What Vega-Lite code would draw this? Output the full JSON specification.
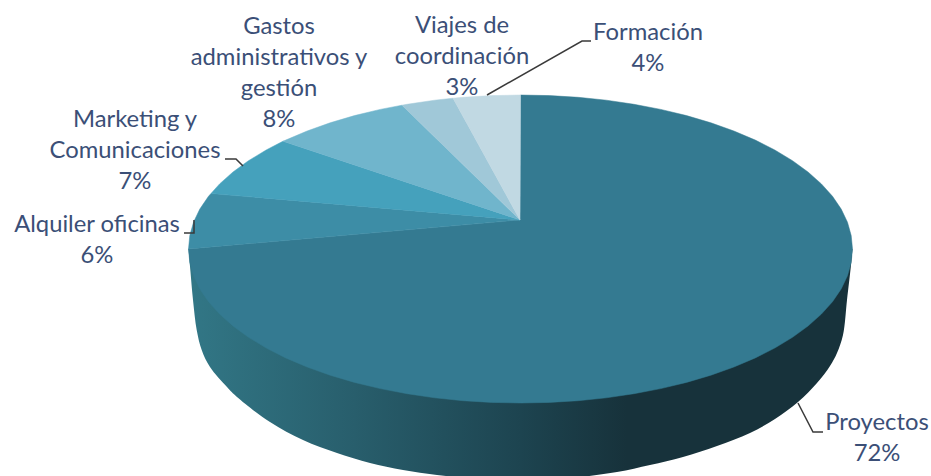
{"$schema":"https://vega.github.io/schema/vega-lite/v6.json","width":931,"height":476,"autosize":{"type":"fit","contains":"padding"},"padding":0,"background":"#ffffff","config":{"view":{"stroke":null}},
"datasets":{
"wall":[{"x":188.5,"y":249},{"x":190.5,"y":272},{"x":193,"y":300},{"x":196.7,"y":330},{"x":201.7,"y":350},{"x":210,"y":367},{"x":227,"y":387},{"x":237,"y":397},{"x":270,"y":422},{"x":303,"y":440},{"x":337,"y":453},{"x":370,"y":463},{"x":403,"y":470},{"x":437,"y":475},{"x":470,"y":478},{"x":520,"y":480},{"x":570,"y":478},{"x":617,"y":472},{"x":650,"y":465},{"x":683,"y":457},{"x":717,"y":446},{"x":750,"y":433},{"x":775,"y":419},{"x":798,"y":402},{"x":817,"y":383},{"x":830,"y":366},{"x":837,"y":353},{"x":843,"y":335},{"x":847,"y":300},{"x":851,"y":265},{"x":852.5,"y":249}],
"proy":[{"x":520,"y":220},{"x":520.5,"y":95},{"x":549.5,"y":95.6},{"x":578.1,"y":97.3},{"x":606.4,"y":100.2},{"x":634,"y":104.3},{"x":660.8,"y":109.4},{"x":686.5,"y":115.6},{"x":710.9,"y":122.8},{"x":733.9,"y":131},{"x":755.3,"y":140.1},{"x":774.8,"y":150},{"x":792.5,"y":160.7},{"x":808,"y":172},{"x":821.4,"y":183.9},{"x":832.5,"y":196.3},{"x":841.2,"y":209.1},{"x":847.5,"y":222.3},{"x":851.2,"y":235.6},{"x":852.5,"y":249},{"x":851.2,"y":262.4},{"x":847.5,"y":275.7},{"x":841.2,"y":288.9},{"x":832.5,"y":301.7},{"x":821.4,"y":314.1},{"x":808,"y":326},{"x":792.5,"y":337.3},{"x":774.8,"y":348},{"x":755.3,"y":357.9},{"x":733.9,"y":367},{"x":710.9,"y":375.2},{"x":686.5,"y":382.4},{"x":660.8,"y":388.6},{"x":634,"y":393.7},{"x":606.4,"y":397.8},{"x":578.1,"y":400.7},{"x":549.5,"y":402.4},{"x":520.5,"y":403},{"x":491.5,"y":402.4},{"x":462.9,"y":400.7},{"x":434.6,"y":397.8},{"x":407,"y":393.7},{"x":380.2,"y":388.6},{"x":354.5,"y":382.4},{"x":330.1,"y":375.2},{"x":307.1,"y":367},{"x":285.7,"y":357.9},{"x":266.2,"y":348},{"x":248.5,"y":337.3},{"x":233,"y":326},{"x":219.6,"y":314.1},{"x":208.5,"y":301.7},{"x":199.8,"y":288.9},{"x":193.5,"y":275.7},{"x":189.8,"y":262.4},{"x":188.5,"y":249},{"x":520,"y":220}],
"alq":[{"x":520,"y":220},{"x":188.5,"y":249},{"x":189.8,"y":235.6},{"x":193.5,"y":222.3},{"x":199.8,"y":209.1},{"x":208.5,"y":196.3},{"x":211,"y":193.5},{"x":520,"y":220}],
"mark":[{"x":520,"y":220},{"x":211,"y":193.5},{"x":219.6,"y":183.9},{"x":233,"y":172},{"x":248.5,"y":160.7},{"x":266.2,"y":150},{"x":283,"y":141.2},{"x":520,"y":220}],
"gast":[{"x":520,"y":220},{"x":283,"y":141.2},{"x":285.7,"y":140.1},{"x":307.1,"y":131},{"x":330.1,"y":122.8},{"x":354.5,"y":115.6},{"x":380.2,"y":109.4},{"x":402,"y":105.2},{"x":520,"y":220}],
"viaj":[{"x":520,"y":220},{"x":402,"y":105.2},{"x":407,"y":104.3},{"x":434.6,"y":100.2},{"x":453,"y":98.2},{"x":520,"y":220}],
"form":[{"x":520,"y":220},{"x":453,"y":98.2},{"x":462.9,"y":97.3},{"x":491.5,"y":95.6},{"x":520.5,"y":95},{"x":520,"y":220}],
"leaders":[{"k":"f","x":487,"y":95},{"k":"f","x":582,"y":41},{"k":"f","x":591,"y":41},{"k":"m","x":225,"y":159},{"k":"m","x":236,"y":159},{"k":"m","x":243,"y":166},{"k":"a","x":184,"y":233},{"k":"a","x":194,"y":233},{"k":"a","x":194,"y":220},{"k":"p","x":798,"y":403},{"k":"p","x":813,"y":432},{"k":"p","x":823,"y":432}],
"labels":[{"concept":"Proyectos","value":72,"t":"Proyectos\n72%","x":877,"y":423},{"concept":"Alquiler oficinas","value":6,"t":"Alquiler oficinas\n6%","x":97,"y":225},{"concept":"Marketing y Comunicaciones","value":7,"t":"Marketing y\nComunicaciones\n7%","x":135,"y":120},{"concept":"Gastos administrativos y gestión","value":8,"t":"Gastos\nadministrativos y\ngestión\n8%","x":279,"y":27},{"concept":"Viajes de coordinación","value":3,"t":"Viajes de\ncoordinación\n3%","x":462,"y":26},{"concept":"Formación","value":4,"t":"Formación\n4%","x":648,"y":33}]
},
"encoding":{"x":{"field":"x","type":"quantitative","axis":null,"scale":{"domain":[0,931],"nice":false,"zero":false}},"y":{"field":"y","type":"quantitative","axis":null,"scale":{"domain":[476,0],"nice":false,"zero":false}},"order":{"value":null}},
"layer":[
{"data":{"name":"wall"},"mark":{"type":"line","clip":true,"interpolate":"catmull-rom","strokeWidth":0,"fill":{"gradient":"linear","x1":0,"y1":0,"x2":1,"y2":0,"stops":[{"offset":0,"color":"#327786"},{"offset":0.25,"color":"#285e6c"},{"offset":0.5,"color":"#1d4450"},{"offset":0.66,"color":"#17323b"},{"offset":1,"color":"#17323b"}]}}},
{"data":{"name":"proy"},"mark":{"type":"line","fill":"#347a91","stroke":"#347a91","strokeWidth":0.5}},
{"data":{"name":"alq"},"mark":{"type":"line","fill":"#3d8da6","stroke":"#3d8da6","strokeWidth":0.5}},
{"data":{"name":"mark"},"mark":{"type":"line","fill":"#45a1bc","stroke":"#45a1bc","strokeWidth":0.5}},
{"data":{"name":"gast"},"mark":{"type":"line","fill":"#70b5cc","stroke":"#70b5cc","strokeWidth":0.5}},
{"data":{"name":"viaj"},"mark":{"type":"line","fill":"#a0c8d8","stroke":"#a0c8d8","strokeWidth":0.5}},
{"data":{"name":"form"},"mark":{"type":"line","fill":"#c1d9e3","stroke":"#c1d9e3","strokeWidth":0.5}},
{"data":{"name":"leaders"},"mark":{"type":"line","stroke":"#3a3a3a","strokeWidth":1.5},"encoding":{"detail":{"field":"k"}}},
{"data":{"name":"labels"},"mark":{"type":"text","font":"Lato","fontSize":23.8,"lineBreak":"\n","lineHeight":31,"align":"center","baseline":"middle","fill":"#3b4f77"},"encoding":{"text":{"field":"t"}}}
]}
